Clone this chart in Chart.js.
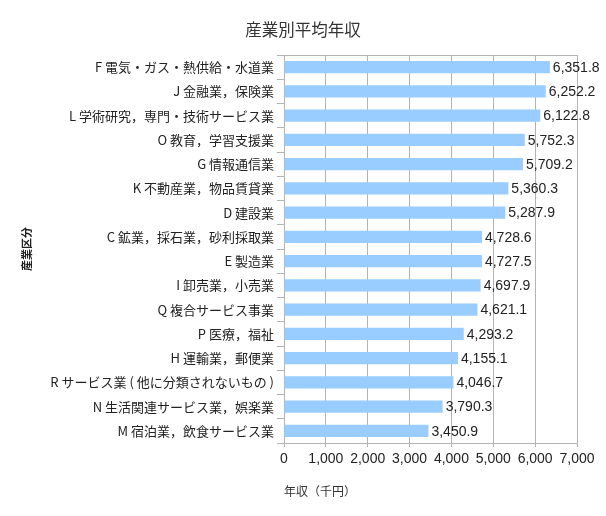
<!DOCTYPE html>
<html lang="ja">
<head>
    <meta charset="UTF-8">
    <title>産業別平均年収</title>
    <style>
        body { margin: 0; background: #fff; }
        #wrap { width: 606px; height: 516px; }
    </style>
</head>
<body>
    <div id="wrap"><canvas id="myChart" width="606" height="516"></canvas></div>
    <script src="https://cdn.jsdelivr.net/npm/chart.js"></script>
    <script>
        // 産業区分（上から順）
        const categories = [
            'F 電気・ガス・熱供給・水道業',
            'J 金融業，保険業',
            'L 学術研究，専門・技術サービス業',
            'O 教育，学習支援業',
            'G 情報通信業',
            'K 不動産業，物品賃貸業',
            'D 建設業',
            'C 鉱業，採石業，砂利採取業',
            'E 製造業',
            'I 卸売業，小売業',
            'Q 複合サービス事業',
            'P 医療，福祉',
            'H 運輸業，郵便業',
            'R サービス業 ( 他に分類されないもの )',
            'N 生活関連サービス業，娯楽業',
            'M 宿泊業，飲食サービス業'
        ];

        // 平均年収（千円）
        const incomes = [6351.8, 6252.2, 6122.8, 5752.3, 5709.2, 5360.3, 5287.9, 4728.6,
                         4727.5, 4697.9, 4621.1, 4293.2, 4155.1, 4046.7, 3790.3, 3450.9];

        const xTicks = [0, 1000, 2000, 3000, 4000, 5000, 6000, 7000];

        const chartTitle = '産業別平均年収';

        const jpFont = "'Noto Sans CJK JP', 'Noto Sans', sans-serif";
        const numFont = "'Liberation Sans', Arial, sans-serif";
        const gridGray = '#b3b3b3';

        const fmt = v => v.toLocaleString('en-US', { minimumFractionDigits: 1, maximumFractionDigits: 1 });

        // バーの右側に値を表示
        const valueLabels = {
            id: 'valueLabels',
            afterDatasetsDraw(chart) {
                const ctx = chart.ctx;
                const meta = chart.getDatasetMeta(0);
                ctx.save();
                ctx.font = '14px ' + numFont;
                ctx.fillStyle = '#222';
                ctx.textAlign = 'left';
                ctx.textBaseline = 'middle';
                meta.data.forEach((bar, i) => {
                    ctx.fillText(fmt(incomes[i]), bar.x + 3, bar.y + 1);
                });
                ctx.restore();
            }
        };

        // プロット上端の枠線とタイトル（キャンバス全体の中央）
        const frameAndTitle = {
            id: 'frameAndTitle',
            beforeDatasetsDraw(chart) {
                const { ctx, chartArea } = chart;
                ctx.save();
                ctx.strokeStyle = gridGray;
                ctx.lineWidth = 1;
                ctx.beginPath();
                ctx.moveTo(chartArea.left, Math.round(chartArea.top) + 0.5);
                ctx.lineTo(chartArea.right, Math.round(chartArea.top) + 0.5);
                ctx.stroke();
                ctx.restore();
            },
            afterDraw(chart) {
                const ctx = chart.ctx;
                ctx.save();
                ctx.font = '16.5px ' + jpFont;
                ctx.fillStyle = '#333';
                ctx.textAlign = 'center';
                ctx.textBaseline = 'middle';
                ctx.fillText(chartTitle, chart.width / 2, chart.chartArea.top - 25);
                ctx.restore();
            }
        };

        new Chart(document.getElementById('myChart'), {
            type: 'bar',
            data: {
                labels: categories,
                datasets: [{
                    label: '年収',
                    data: incomes,
                    backgroundColor: '#99ccff',
                    borderWidth: 0,
                    categoryPercentage: 1.0,
                    barPercentage: 0.5
                }]
            },
            options: {
                indexAxis: 'y',
                responsive: false,
                animation: false,
                devicePixelRatio: 1,
                layout: { padding: { top: 55, right: 29, bottom: 17, left: 0 } },
                plugins: {
                    legend: { display: false },
                    tooltip: { enabled: false },
                    title: { display: false }
                },
                scales: {
                    x: {
                        min: 0,
                        max: 7000,
                        afterBuildTicks(scale) {
                            scale.ticks = xTicks.map(v => ({ value: v }));
                        },
                        afterFit(scale) { scale.height = 56; },
                        grid: { color: gridGray, tickLength: 4, drawTicks: true },
                        border: { color: gridGray },
                        ticks: {
                            color: '#222',
                            padding: 4,
                            font: { family: numFont, size: 14 },
                            callback: v => v.toLocaleString('en-US')
                        },
                        title: {
                            display: true,
                            text: '年収（千円）',
                            align: 'start',
                            color: '#333',
                            font: { family: jpFont, size: 12 },
                            padding: { top: 12, bottom: 0 }
                        }
                    },
                    y: {
                        afterFit(scale) { scale.width = 284; },
                        grid: {
                            offset: true,
                            drawOnChartArea: false,
                            tickLength: 7,
                            tickColor: gridGray
                        },
                        border: { color: gridGray },
                        ticks: {
                            color: '#222',
                            padding: 3,
                            font: { family: jpFont, size: 13 }
                        },
                        title: {
                            display: true,
                            text: '産業区分',
                            color: '#222',
                            font: { family: jpFont, size: 11, weight: 'bold' },
                            padding: { top: 20, bottom: 0 }
                        }
                    }
                }
            },
            plugins: [valueLabels, frameAndTitle]
        });
    </script>
</body>
</html>
